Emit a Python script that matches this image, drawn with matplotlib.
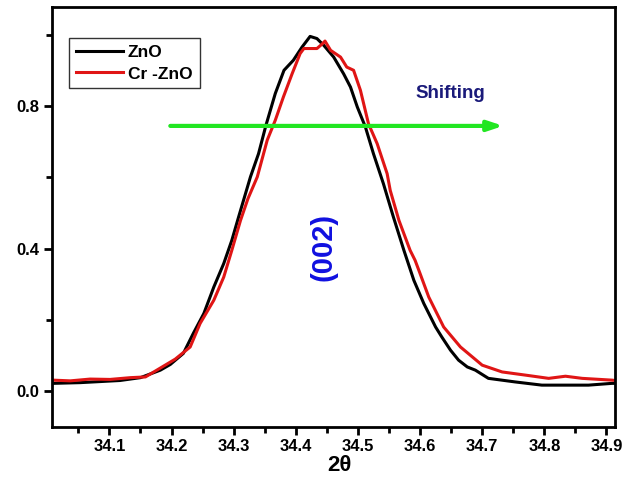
import matplotlib
matplotlib.use("Agg")
import matplotlib.pyplot as plt
from matplotlib.ticker import MultipleLocator, FormatStrFormatter

plt.rcParams['font.family'] = ['Liberation Sans', 'DejaVu Sans']
plt.rcParams['font.weight'] = 'bold'

zno_x = [34.0095, 34.053, 34.085, 34.117, 34.150, 34.182, 34.198, 34.219, 34.235, 34.252,
         34.268, 34.284, 34.297, 34.308, 34.327, 34.340, 34.352, 34.367, 34.381, 34.396,
         34.410, 34.423, 34.434, 34.445, 34.461, 34.477, 34.488, 34.499, 34.512, 34.525,
         34.541, 34.557, 34.574, 34.590, 34.606, 34.625, 34.635, 34.649, 34.662, 34.676,
         34.689, 34.710, 34.753, 34.796, 34.833, 34.871, 34.909, 34.914]
zno_y = [0.022, 0.024, 0.027, 0.030, 0.038, 0.059, 0.075, 0.106, 0.162, 0.218,
         0.292, 0.358, 0.423, 0.489, 0.601, 0.666, 0.746, 0.835, 0.900, 0.928,
         0.965, 0.995, 0.989, 0.970, 0.937, 0.890, 0.853, 0.797, 0.741, 0.666,
         0.582, 0.489, 0.395, 0.311, 0.246, 0.180, 0.152, 0.115, 0.087, 0.068,
         0.059, 0.036, 0.026, 0.017, 0.017, 0.017, 0.022, 0.022]

cr_x = [34.0095, 34.037, 34.069, 34.101, 34.134, 34.158, 34.182, 34.206, 34.230, 34.246,
        34.268, 34.284, 34.297, 34.311, 34.323, 34.338, 34.354, 34.367, 34.380, 34.394,
        34.407, 34.413, 34.434, 34.442, 34.447, 34.456, 34.472, 34.482, 34.493, 34.504,
        34.517, 34.531, 34.547, 34.552, 34.566, 34.584, 34.592, 34.600, 34.614, 34.638,
        34.665, 34.700, 34.732, 34.770, 34.807, 34.834, 34.861, 34.909, 34.914]
cr_y = [0.031, 0.029, 0.034, 0.033, 0.038, 0.040, 0.065, 0.090, 0.124, 0.190,
        0.255, 0.320, 0.395, 0.479, 0.540, 0.601, 0.704, 0.760, 0.825, 0.890,
        0.947, 0.961, 0.961, 0.973, 0.982, 0.956, 0.937, 0.909, 0.900, 0.844,
        0.750, 0.694, 0.610, 0.563, 0.479, 0.395, 0.367, 0.330, 0.264, 0.180,
        0.124, 0.073, 0.054, 0.045, 0.036, 0.042, 0.036, 0.031, 0.030]

series_labels = ['ZnO', 'Cr -ZnO']
x_ticks = [34.1, 34.2, 34.3, 34.4, 34.5, 34.6, 34.7, 34.8, 34.9]
y_ticks = [0.0, 0.4, 0.8]

fig = plt.figure(figsize=(6.22, 4.78), dpi=100)
ax = fig.add_axes([0.084, 0.107, 0.905, 0.878])

ax.plot(zno_x, zno_y, color='black', lw=2.2, label=series_labels[0])
ax.plot(cr_x, cr_y, color='#e01515', lw=2.2, label=series_labels[1])

ax.set_xlim(34.008, 34.914)
ax.set_ylim(-0.1, 1.077)

ax.set_xticks(x_ticks)
ax.set_yticks(y_ticks)
ax.xaxis.set_minor_locator(MultipleLocator(0.05))
ax.yaxis.set_minor_locator(MultipleLocator(0.2))
ax.yaxis.set_major_formatter(FormatStrFormatter('%.1f'))
ax.xaxis.set_major_formatter(FormatStrFormatter('%.1f'))

for s in ax.spines.values():
    s.set_linewidth(2.0)
ax.tick_params(axis='both', which='major', direction='out', length=6, width=2,
               labelsize=12, pad=3)
ax.tick_params(axis='both', which='minor', direction='out', length=4, width=2)
ax.tick_params(top=False, right=False, which='both')
for lab in ax.get_xticklabels() + ax.get_yticklabels():
    lab.set_fontweight('bold')

ax.set_xlabel('2θ', fontsize=16, fontweight='bold')
ax.xaxis.set_label_coords(0.511, -0.066)

ax.annotate('', xy=(34.734, 0.744), xytext=(34.198, 0.744),
            arrowprops=dict(arrowstyle='-|>,head_length=0.9,head_width=0.3',
                            color='#22e622', lw=3, shrinkA=0, shrinkB=0))
ax.text(34.649, 0.835, 'Shifting', color='#1a1a7a', fontsize=13.5,
        fontweight='bold', ha='center', va='center')
ax.text(34.444, 0.404, '(002)', color='#1010e0', fontsize=21,
        fontweight='bold', ha='center', va='center', rotation=90)

leg = ax.legend(loc='upper left', bbox_to_anchor=(0.0297, 0.926), borderaxespad=0,
                fancybox=False, framealpha=1, edgecolor='#333333',
                prop={'size': 12.5, 'weight': 'bold'}, handlelength=2.7,
                handletextpad=0.3, borderpad=0.4, labelspacing=0.35)
leg.get_frame().set_linewidth(1.0)

fig.savefig('out.png', dpi=100)
